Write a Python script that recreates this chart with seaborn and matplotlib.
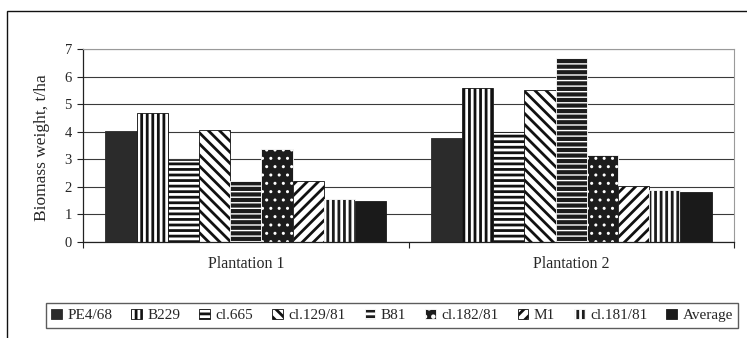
import numpy as np
import pandas as pd
import matplotlib.pyplot as plt
import seaborn as sns

# ---- data ----
plantations = ["Plantation 1", "Plantation 2"]
clones = ["PE4/68", "B229", "cl.665", "cl.129/81", "B81",
          "cl.182/81", "M1", "cl.181/81", "Average"]
plantation1 = [4.03, 4.69, 2.97, 4.08, 2.22, 3.36, 2.22, 1.55, 1.49]
plantation2 = [3.76, 5.59, 4.00, 5.50, 6.68, 3.15, 2.03, 1.88, 1.82]

df = pd.DataFrame({
    "plantation": np.repeat(plantations, len(clones)),
    "clone": clones * 2,
    "biomass": plantation1 + plantation2,
})

# face colour, hatch, hatch colour for each clone (black & white print style)
styles = {
    "PE4/68":    ("#2b2b2b", None,       "#2b2b2b"),
    "B229":      ("white",   "|||",      "#111111"),
    "cl.665":    ("white",   "---",      "#111111"),
    "cl.129/81": ("white",   "\\\\\\",   "#111111"),
    "B81":       ("#1c1c1c", "---",      "white"),
    "cl.182/81": ("#1c1c1c", "..",       "white"),
    "M1":        ("white",   "///",      "#111111"),
    "cl.181/81": ("#1c1c1c", "|||",      "white"),
    "Average":   ("#1a1a1a", None,       "#1a1a1a"),
}

sns.set_style("white")
plt.rcParams["font.family"] = ["Liberation Serif", "DejaVu Serif"]
plt.rcParams["hatch.linewidth"] = 2.0

fig = plt.figure(figsize=(7.47, 3.38), dpi=100)
ax = fig.add_axes([83 / 747, 1 - 242 / 338, 651 / 747, 193 / 338])

sns.barplot(data=df, x="plantation", y="biomass", hue="clone",
            hue_order=clones, order=plantations, width=0.863, gap=0,
            errorbar=None, legend=False, ax=ax, saturation=1)

for container, clone in zip(ax.containers, clones):
    face, hatch, hcol = styles[clone]
    for bar in container:
        bar.set_facecolor(face)
        bar.set_edgecolor(hcol)
        bar.set_linewidth(0.6)
        if hatch:
            bar.set_hatch(hatch)
            if clone in ("B81", "cl.182/81") and hasattr(bar, "set_hatch_linewidth"):
                bar.set_hatch_linewidth(1.0)

# axes styling
ax.set_ylim(0, 7)
ax.set_xlim(-0.5, 1.5)
ax.set_yticks(range(8))
ax.yaxis.grid(True, color="#3a3a3a", linewidth=0.8)
ax.set_axisbelow(True)
for side in ["top", "right"]:
    ax.spines[side].set_color("#9a9a9a")
    ax.spines[side].set_linewidth(0.8)
for side in ["left", "bottom"]:
    ax.spines[side].set_color("#222222")
    ax.spines[side].set_linewidth(0.9)

ax.tick_params(axis="y", left=True, length=4, width=0.8, color="#222222",
               labelsize=10.5, pad=4)
ax.set_xticks([-0.5, 0.5, 1.5], minor=True)
ax.tick_params(axis="x", which="minor", bottom=True, length=4, width=0.8,
               color="#222222")
ax.tick_params(axis="x", which="major", length=0, labelsize=11.5, pad=10)
ax.set_xlabel("")
ax.set_ylabel("Biomass weight, t/ha", fontsize=12.5)
ax.yaxis.set_label_coords(-0.05, 0.49)

# legend
handles = [c[0] for c in ax.containers]
fig.legend(handles, clones, ncol=9, loc="center",
           bbox_to_anchor=(392 / 747, 1 - 315.5 / 338),
           frameon=True, fancybox=False, edgecolor="#333333",
           fontsize=11, handlelength=0.7, handleheight=0.7,
           handletextpad=0.35, columnspacing=1.25, borderpad=0.35)

# outer chart frame (runs off the right and bottom edges)
fig.add_artist(plt.Rectangle((7 / 747, -0.1), 1.2, 1.1 - 11 / 338,
                             transform=fig.transFigure, fill=False,
                             edgecolor="#111111", linewidth=1.0, clip_on=False))

fig.savefig("out.png", dpi=100)
